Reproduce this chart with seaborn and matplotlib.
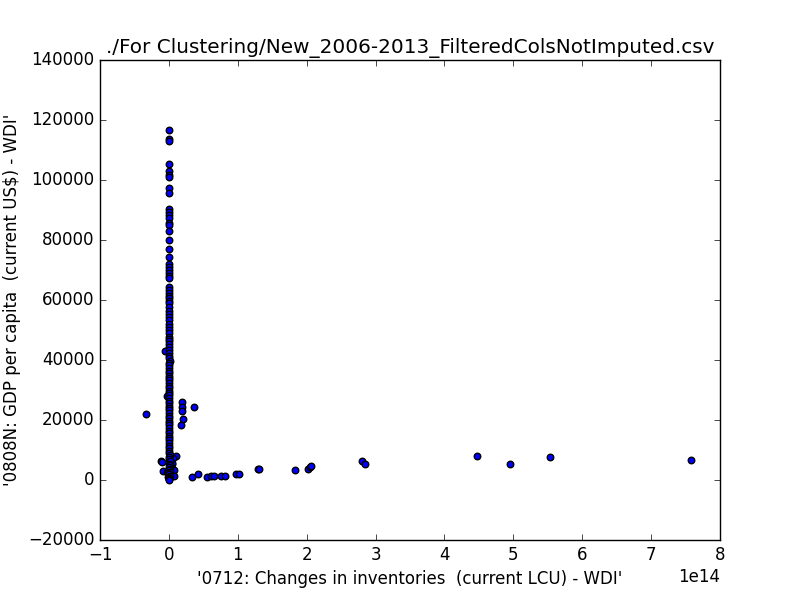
import matplotlib
matplotlib.use("Agg")
import matplotlib.pyplot as plt
import pandas as pd
import seaborn as sns

TITLE = "./For Clustering/New_2006-2013_FilteredColsNotImputed.csv"
XLABEL = "'0712: Changes in inventories  (current LCU) - WDI'"
YLABEL = "'0808N: GDP per capita  (current US$) - WDI'"

# Points away from the main column (x in units of 1e14)
outlier_x = [-0.334, -0.05, 0.19, 0.19, 0.19, 0.36, 0.21, 0.18, -0.03, -0.12, -0.10, 0.10, -0.09,
             0.06, 0.05, 0.08, -0.03, 0.07, 0.04,
             0.34, 0.42, 0.55, 0.61, 0.65, 0.76, 0.81, 0.98, 1.02, 1.29, 1.31, 1.83, 2.02, 2.05,
             2.06, 2.81, 2.84, 4.47, 4.95, 5.53, 7.58]
outlier_y = [22000, 43000, 26000, 24300, 23000, 24300, 20300, 18300, 28000, 6200, 6000, 8000, 3000,
             7200, 5200, 3300, 2700, 1500, 5800,
             1000, 2000, 1000, 1300, 1500, 1300, 1500, 2000, 2000, 3600, 3700, 3300, 3700, 4500,
             4800, 6200, 5300, 8000, 5300, 7600, 6600]

# Main column close to x = 0
column_y = [116700, 113700, 113000, 105300, 103000, 101800, 101000, 97300, 95800, 90300, 89300,
            88300, 87300, 85600, 85000, 83000, 80000, 77000, 74300, 72000, 71000, 70000, 69000,
            68000, 67500, 64300, 63300, 62300, 61500, 60700, 59800, 59000, 57700, 56300, 55400,
            54500, 53200, 52000, 51000, 50000, 48900, 47800, 47000, 46300, 45300, 44300, 43200,
            42300, 41500, 40700, 39800, 39000, 38200, 37300, 36500, 35600, 34800, 34000, 33200,
            32300, 31500, 30600, 29800, 29000, 28200, 27300, 26500, 25700, 24800, 24000, 23200,
            22300, 21500, 20700, 19800, 19000, 18200, 17300, 16500, 15700, 14800, 14000, 13200,
            12300, 11500, 10700, 9800, 9000, 8300, 7600, 6900, 6200, 5500, 4900, 4300, 3800,
            3300, 2800, 2300, 1900, 1500, 1100, 800, 500, 300, 150]
column_x = [0.0, 0.0, 0.0, 0.0, 0.0, 0.0, 0.0, 0.0, 0.0, 0.0, 0.0,
            0.0, 0.0, 0.0, 0.0, 0.0, 0.0, 0.0, 0.0, 0.0, 0.0, 0.0, 0.0,
            -0.005, 0.0, 0.0, 0.0, 0.0, 0.0, 0.005, 0.0, 0.0, 0.0, 0.005, 0.0,
            0.0, 0.0, 0.0, 0.005, 0.0, 0.0, 0.0, 0.005, 0.0, 0.0, 0.0, 0.005,
            0.0, 0.0, 0.005, 0.01, 0.0, 0.0, 0.005, 0.0, 0.0, 0.005, 0.0, 0.0,
            0.0, 0.005, 0.0, 0.0, 0.005, 0.0, 0.0, 0.005, 0.0, 0.0, 0.005, 0.0,
            0.0, 0.005, 0.0, 0.0, 0.005, 0.0, 0.0, 0.005, 0.0, 0.0, 0.005, 0.0,
            0.0, 0.005, 0.0, 0.0, 0.005, 0.01, 0.0, 0.005, 0.01, 0.0, 0.01, 0.005, 0.015,
            0.0, 0.01, -0.01, 0.005, 0.01, -0.01, 0.0, 0.005, 0.0, 0.0]

SCALE = 1e14
df = pd.DataFrame({
    "x": [v * SCALE for v in outlier_x + column_x],
    "y": outlier_y + column_y,
})

plt.style.use("classic")
plt.rcParams["font.family"] = "DejaVu Sans"
fig, ax = plt.subplots(figsize=(8, 6), dpi=100)
fig.patch.set_facecolor("white")
sns.scatterplot(data=df, x="x", y="y", ax=ax, color="b", edgecolor="k", linewidth=1, s=22, legend=False)
ax.set_xlim(-1e14, 8e14)
ax.set_ylim(-20000, 140000)
ax.set_title(TITLE, fontsize=14.45)
ax.set_xlabel(XLABEL)
ax.set_ylabel(YLABEL)
fig.savefig("out.png", dpi=100, facecolor="white")
